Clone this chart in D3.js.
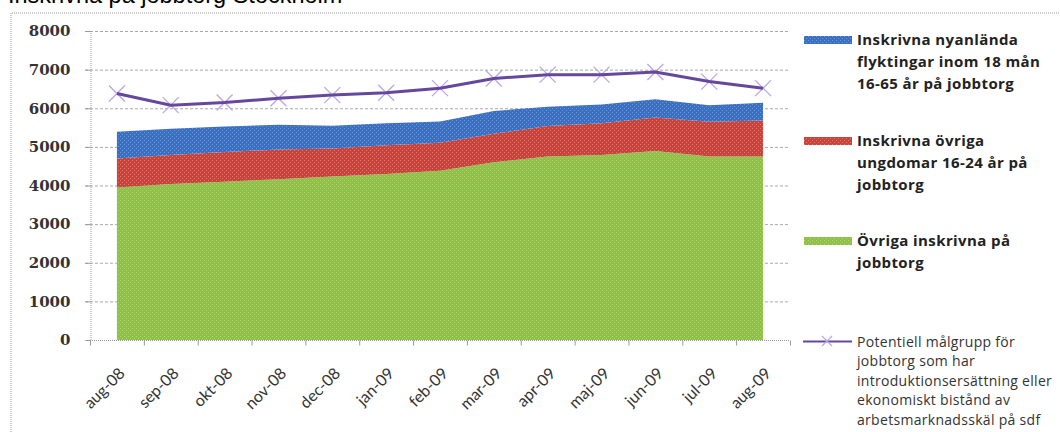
<!DOCTYPE html>
<html>
<head>
<meta charset="utf-8">
<script src="https://cdn.jsdelivr.net/npm/d3@7"></script>
<style>
  body { margin: 0; background: #fff; }
  svg { display: block; }
</style>
</head>
<body>
<div id="chart"></div>
<script>
var width = 1060,
    height = 432;

// data
var months = ['aug-08', 'sep-08', 'okt-08', 'nov-08', 'dec-08', 'jan-09', 'feb-09',
              'mar-09', 'apr-09', 'maj-09', 'jun-09', 'jul-09', 'aug-09'];
var ovrigaInskrivna = [3950, 4040, 4100, 4160, 4230, 4300, 4380, 4600, 4750, 4790, 4890, 4750, 4750];
var ovrigaUngdomar = [750, 750, 770, 770, 730, 740, 730, 740, 790, 820, 870, 900, 930];
var nyanlanda = [690, 680, 660, 640, 590, 570, 550, 590, 500, 490, 470, 430, 460];
var potentiell = [6380, 6080, 6150, 6260, 6340, 6400, 6520, 6770, 6870, 6870, 6940, 6690, 6520];
var yTicks = [0, 1000, 2000, 3000, 4000, 5000, 6000, 7000, 8000];

var title = 'Inskrivna på jobbtorg Stockholm';
var legendBlue = ['Inskrivna nyanlända', 'flyktingar inom 18 mån', '16-65 år på jobbtorg'];
var legendRed = ['Inskrivna övriga', 'ungdomar 16-24 år på', 'jobbtorg'];
var legendGreen = ['Övriga inskrivna på', 'jobbtorg'];
var legendLine = ['Potentiell målgrupp för', 'jobbtorg  som har', 'introduktionsersättning eller',
                  'ekonomiskt bistånd av', 'arbetsmarknadsskäl på sdf'];

var rows = months.map(function(m, i){
  return { month: m, green: ovrigaInskrivna[i], red: ovrigaUngdomar[i], blue: nyanlanda[i] };
});

var svg = d3.select('#chart').append('svg')
  .attr('width', width)
  .attr('height', height);

// textured fills like the old excel export
var defs = svg.append('defs');
function pattern(id, base, dot){
  var p = defs.append('pattern').attr('id', id)
    .attr('width', 4).attr('height', 4).attr('patternUnits', 'userSpaceOnUse');
  p.append('rect').attr('width', 4).attr('height', 4).attr('fill', base);
  p.append('rect').attr('x', 0).attr('y', 0).attr('width', 1).attr('height', 1).attr('fill', dot);
  p.append('rect').attr('x', 2).attr('y', 2).attr('width', 1).attr('height', 1).attr('fill', dot);
}
pattern('pBlue', '#3a6fc2', '#6b98d8');
pattern('pRed', '#c9433d', '#e0786c');
pattern('pGreen', '#8dc14a', '#b5d36a');
var fills = { blue: 'url(#pBlue)', red: 'url(#pRed)', green: 'url(#pGreen)' };

// outer frame (dotted)
svg.append('path')
  .attr('d', 'M11,' + (height + 2) + 'V13H' + (width + 2))
  .attr('fill', 'none')
  .attr('stroke', '#999')
  .attr('stroke-dasharray', '1,1');

svg.append('text')
  .attr('x', 8)
  .attr('y', 3)
  .style('font-family', 'Liberation Sans, Arial, sans-serif')
  .style('font-size', '23.5px')
  .attr('fill', '#000')
  .text(title);

var x = d3.scaleBand().domain(months).range([90, 790]);
var y = d3.scaleLinear().domain([0, 8000]).range([340, 31]);
var cx = function(m){ return x(m) + x.bandwidth() / 2; };

// gridlines
svg.append('g').selectAll('line')
  .data(yTicks.slice(1))
  .enter().append('line')
  .attr('x1', 85).attr('x2', 790)
  .attr('y1', function(d){ return y(d) + 0.5; })
  .attr('y2', function(d){ return y(d) + 0.5; })
  .attr('stroke', '#aaa')
  .attr('stroke-dasharray', '3,2');

// stacked areas
var stack = d3.stack().keys(['green', 'red', 'blue']);
var layers = stack(rows);
var area = d3.area()
  .x(function(d){ return cx(d.data.month); })
  .y0(function(d){ return y(d[0]); })
  .y1(function(d){ return y(d[1]); });

svg.append('g').selectAll('path')
  .data(layers)
  .enter().append('path')
  .attr('d', area)
  .attr('fill', function(d){ return fills[d.key]; });

// axes
var yAxis = svg.append('g').attr('transform', 'translate(90.5,0)')
  .call(d3.axisLeft(y).tickValues(yTicks).tickSize(5).tickPadding(15).tickFormat(d3.format('d')));
yAxis.select('.domain').attr('stroke', '#999').attr('stroke-dasharray', '1,1');
yAxis.selectAll('.tick line').attr('stroke', '#999');
yAxis.selectAll('text')
  .style('font-family', 'DejaVu Serif, serif')
  .style('font-weight', 'bold')
  .style('font-size', '15px')
  .attr('fill', '#333');

var xAxis = svg.append('g').attr('transform', 'translate(0,340.5)');
xAxis.append('line').attr('x1', 90).attr('x2', 790)
  .attr('stroke', '#999').attr('stroke-dasharray', '1,1');
xAxis.selectAll('.tk')
  .data(months.concat(['end']))
  .enter().append('line')
  .attr('class', 'tk')
  .attr('x1', function(d, i){ return 90 + i * x.step() + 0.5; })
  .attr('x2', function(d, i){ return 90 + i * x.step() + 0.5; })
  .attr('y1', 0).attr('y2', 5)
  .attr('stroke', '#999');
xAxis.selectAll('text')
  .data(months)
  .enter().append('text')
  .attr('transform', function(d){ return 'translate(' + (cx(d) + 5) + ',30) rotate(-45)'; })
  .attr('text-anchor', 'end')
  .attr('dy', '0.35em')
  .style('font-family', 'Lato, sans-serif')
  .style('font-size', '16px')
  .attr('fill', '#333')
  .text(function(d){ return d; });

// potential target group line
var line = d3.line()
  .x(function(d, i){ return cx(months[i]); })
  .y(function(d){ return y(d); });
var cross = 'M-8,-8L8,8M-8,8L8,-8';

svg.append('g').selectAll('path')
  .data(potentiell)
  .enter().append('path')
  .attr('transform', function(d, i){ return 'translate(' + cx(months[i]) + ',' + y(d) + ')'; })
  .attr('d', cross)
  .attr('stroke', '#b9a6e6')
  .attr('stroke-width', 1.3)
  .attr('fill', 'none');

svg.append('path')
  .datum(potentiell)
  .attr('d', line)
  .attr('fill', 'none')
  .attr('stroke', '#66479e')
  .attr('stroke-width', 3);

// legend
var legend = svg.append('g');
var entries = [
  { lines: legendBlue, fill: fills.blue, y: 40 },
  { lines: legendRed, fill: fills.red, y: 141 },
  { lines: legendGreen, fill: fills.green, y: 241 }
];
entries.forEach(function(e){
  legend.append('rect')
    .attr('x', 804).attr('y', e.y - 4)
    .attr('width', 48).attr('height', 8)
    .attr('fill', e.fill);
  legend.append('g').selectAll('text')
    .data(e.lines)
    .enter().append('text')
    .attr('x', 857)
    .attr('y', function(d, i){ return e.y + i * 22; })
    .attr('dy', '0.35em')
    .style('font-family', 'Open Sans, sans-serif')
    .style('font-weight', 'bold')
    .style('font-size', '15px')
    .style('letter-spacing', '0.4px')
    .attr('fill', '#222')
    .text(function(d){ return d; });
});

legend.append('line')
  .attr('x1', 803).attr('x2', 852)
  .attr('y1', 341.5).attr('y2', 341.5)
  .attr('stroke', '#66479e').attr('stroke-width', 2);
legend.append('path')
  .attr('transform', 'translate(827,341)')
  .attr('d', 'M-5,-5L5,5M-5,5L5,-5')
  .attr('stroke', '#b9a6e6').attr('stroke-width', 1.2);
legend.append('g').selectAll('text')
  .data(legendLine)
  .enter().append('text')
  .attr('x', 857)
  .attr('y', function(d, i){ return 342 + i * 19.5; })
  .attr('dy', '0.35em')
  .style('font-family', 'Open Sans, sans-serif')
  .style('font-size', '14px')
  .style('letter-spacing', '0.3px')
  .attr('fill', '#333')
  .text(function(d){ return d; });
</script>
</body>
</html>
